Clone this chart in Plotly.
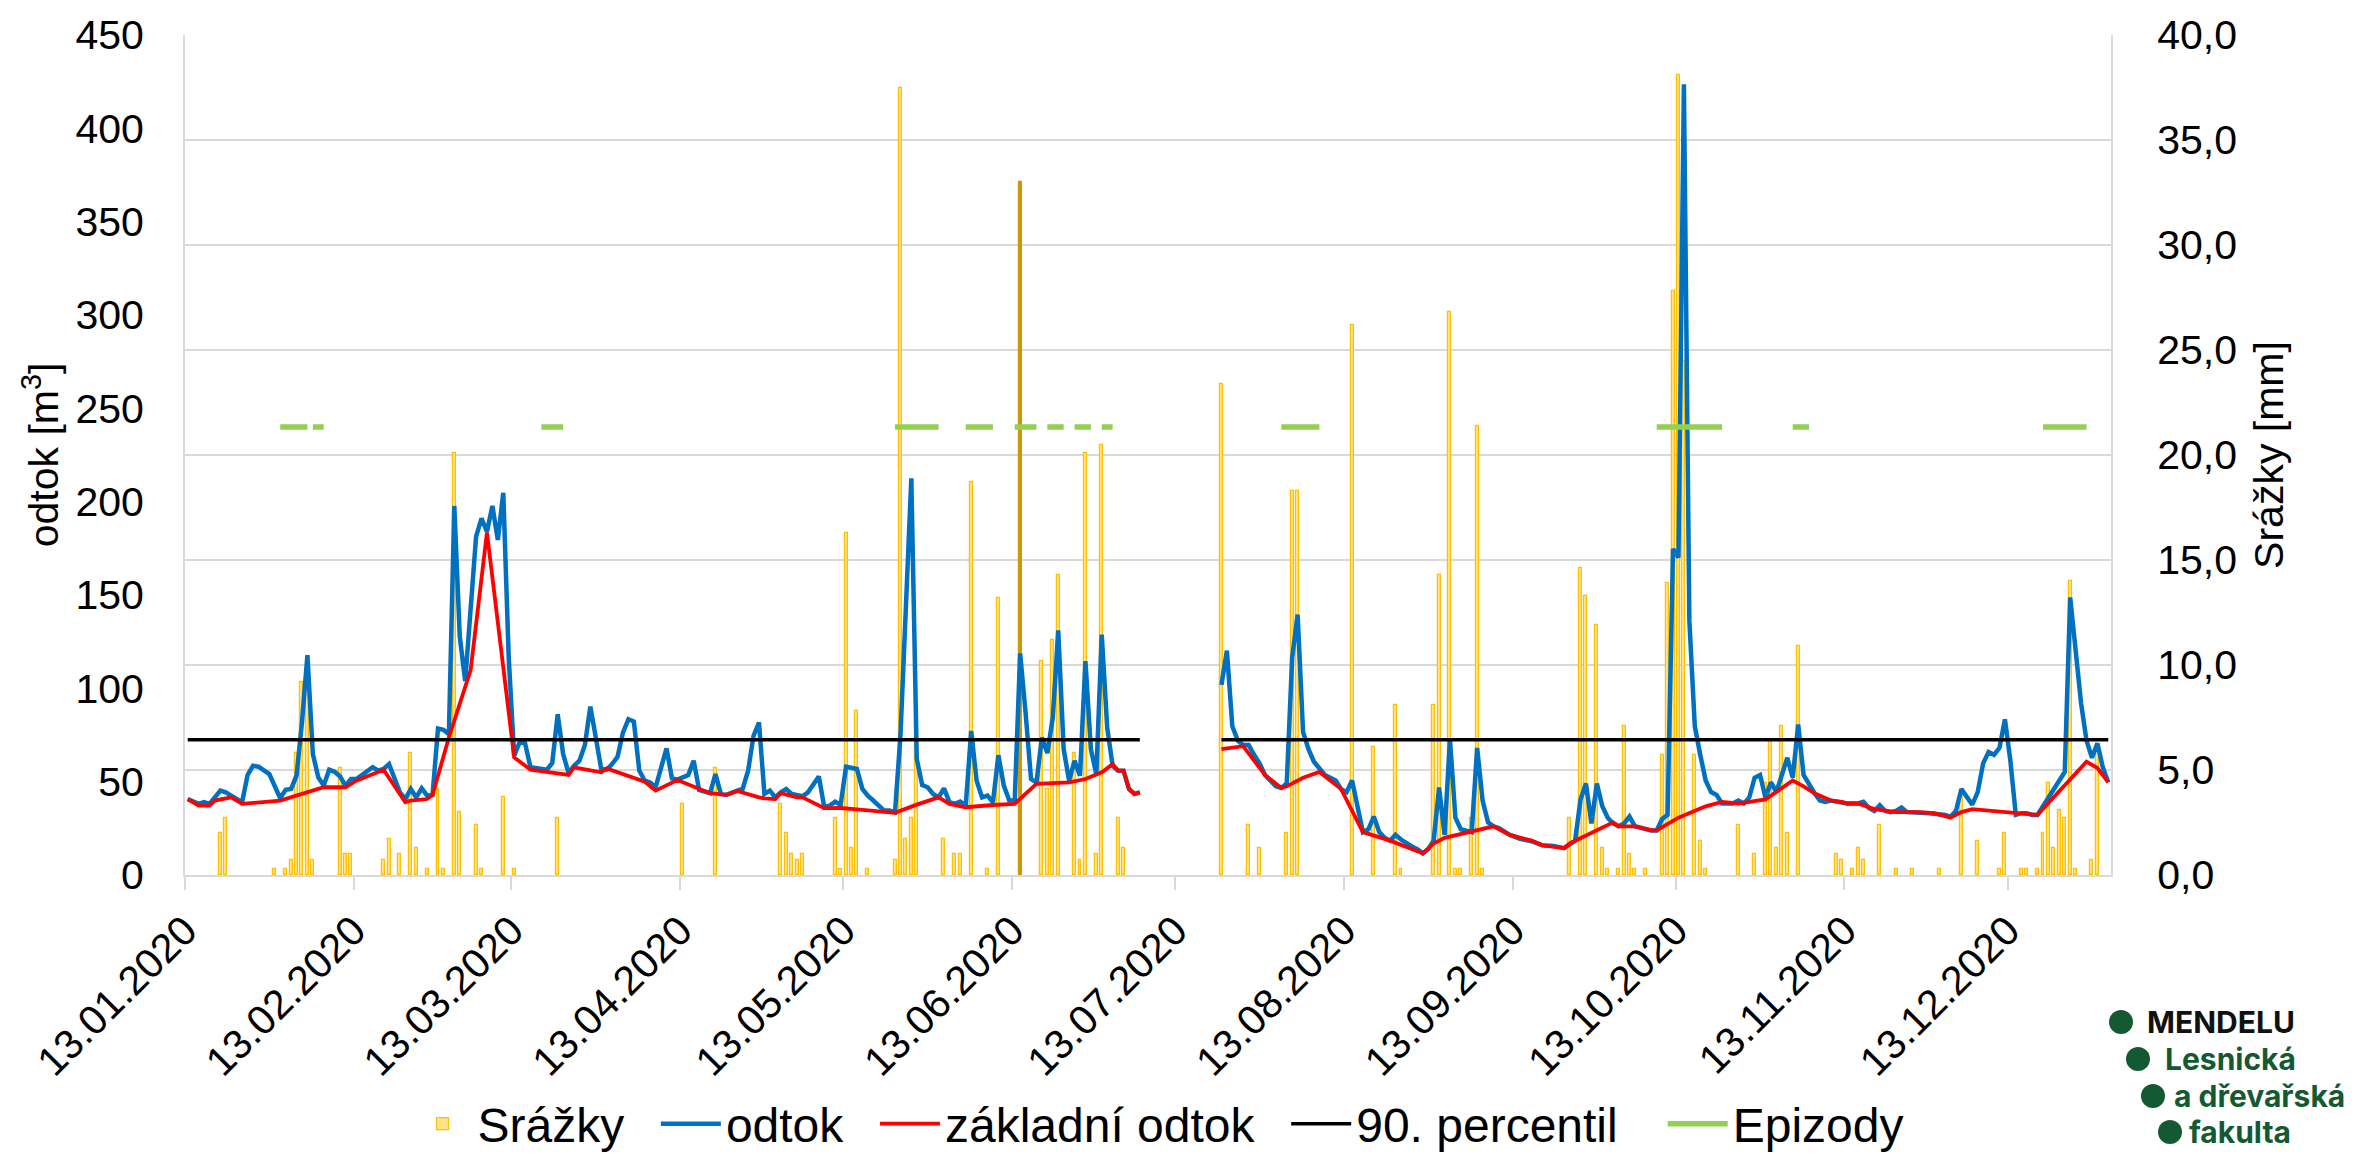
import datetime as dt
import plotly.graph_objects as go

# ---------------- data (days counted from 13.01.2020) ----------------
START = dt.datetime(2020, 1, 13)

tick_labels = ["13.01.2020", "13.02.2020", "13.03.2020", "13.04.2020", "13.05.2020", "13.06.2020",
               "13.07.2020", "13.08.2020", "13.09.2020", "13.10.2020", "13.11.2020", "13.12.2020"]

odtok_day = [0, 2, 3, 4, 6, 7, 8, 10, 11, 12, 13, 15, 17, 18, 19, 20, 21, 22, 23, 24, 25, 26, 27, 28, 29, 30,
             31, 33, 34, 35, 36, 37, 39, 40, 41, 42, 43, 44, 45, 46, 47, 48, 49, 50, 51, 53, 54, 55, 56, 57, 58,
             59, 60, 61, 62, 63, 65, 66, 67, 68, 69, 70, 71, 72, 73, 74, 75, 76, 77, 78, 79, 80, 81, 82, 83, 84,
             85, 86, 88, 89, 90, 92, 93, 94, 96, 97, 98, 99, 101, 102, 103, 104, 105, 106, 107, 108, 109, 110,
             111, 112, 113, 114, 115, 116, 117, 118, 119, 120, 121, 122, 123, 124, 125, 126, 127, 128, 129, 130,
             131, 132, 133, 134, 135, 136, 137, 138, 139, 140, 141, 142, 143, 144, 145, 146, 147, 148, 149, 150,
             151, 152, 153, 154, 155, 156, 157, 158, 159, 160, 161, 162, 163, 164, 165, 166, 167, 168, 169, 170,
             171, 172, 173, 174, 175,
             190, 191, 192, 193, 194, 195, 196, 197, 198, 200, 201, 202, 203, 204, 205, 206, 207, 208, 209, 210,
             211, 212, 213, 214, 215, 216, 217, 218, 219, 220, 221, 222, 223, 224, 225, 226, 227, 228, 229, 230,
             231, 232, 233, 234, 235, 236, 237, 238, 239, 240, 241, 243, 245, 247, 249, 251, 253, 255, 256, 257,
             258, 259, 260, 261, 262, 263, 264, 265, 266, 268, 269, 270, 271, 272, 273, 274, 275, 276, 277, 278,
             279, 280, 281, 282, 283, 284, 285, 286, 287, 288, 289, 290, 291, 292, 293, 294, 295, 296, 297, 298,
             299, 300, 301, 302, 303, 305, 306, 307, 308, 309, 310, 311, 312, 313, 314, 315, 316, 317, 318, 320,
             321, 322, 323, 324, 325, 326, 327, 328, 329, 330, 331, 332, 333, 334, 335, 336, 337, 338, 339, 340,
             341, 342, 343, 344, 345, 346, 347, 348, 349, 350, 351, 352, 353]
odtok_val = [40.7, 38.1, 39.0, 38.1, 45.2, 44.3, 42.5, 39.0, 53.6, 58.5, 58.0, 54.1, 41.1, 45.6, 46.1, 53.2, 81.7,
             117.8, 64.8, 52.3, 47.9, 56.4, 55.3, 52.8, 47.9, 51.4, 51.4, 55.9, 57.7, 55.9, 56.8, 59.4, 44.3, 40.7,
             46.1, 41.6, 46.4, 42.5, 42.9, 78.5, 77.8, 75.4, 197.7, 127.9, 103.9, 181.3, 191.1, 184.0, 197.7,
             179.5, 204.8, 116.4, 63.9, 71.0, 70.6, 57.7, 57.1, 56.4, 60.0, 86.1, 64.8, 54.6, 58.5, 61.2, 69.6,
             90.2, 73.7, 56.8, 56.4, 59.4, 63.3, 76.3, 83.5, 82.2, 55.9, 50.5, 49.6, 47.0, 67.8, 51.8, 51.1, 53.6,
             61.2, 45.6, 43.8, 54.1, 43.4, 42.9, 45.2, 46.1, 55.9, 74.6, 81.7, 43.4, 45.2, 41.6, 44.3, 46.1, 43.4,
             42.5, 42.2, 44.3, 48.8, 52.8, 36.3, 37.2, 39.3, 37.5, 58.0, 57.1, 56.8, 46.1, 42.5, 39.9, 37.2, 34.5,
             34.5, 33.6, 74.6, 147.5, 212.5, 62.1, 48.2, 47.0, 43.4, 41.6, 46.4, 39.0, 38.1, 39.3, 37.2, 77.2,
             50.5, 41.6, 42.5, 39.0, 64.2, 47.9, 39.9, 39.9, 118.7, 87.0, 51.4, 49.6, 73.7, 65.3, 84.3, 131.1,
             67.4, 50.5, 61.2, 53.2, 114.6, 67.4, 54.1, 128.8, 79.0, 58.5, 55.9, 55.9, 46.1, 43.4, 44.3,
             101.8, 120.2, 79.7, 72.0, 69.6, 69.6, 64.4, 59.8, 53.6, 47.5, 46.6, 49.0, 116.5, 139.5, 76.6, 67.4,
             60.7, 56.7, 53.6, 52.1, 50.6, 46.0, 44.4, 50.6, 36.8, 23.0, 24.5, 31.3, 23.0, 19.9, 18.4, 21.5, 19.0,
             16.9, 15.3, 13.8, 11.6, 13.8, 18.4, 46.9, 21.5, 72.7, 30.7, 24.5, 23.6, 23.0, 68.1, 39.9, 28.2, 26.1,
             25.1, 21.5, 19.3, 18.1, 15.9, 15.6, 14.4, 18.4, 40.5, 49.0, 27.6, 49.0, 36.8, 30.7, 27.6, 26.1, 27.6,
             31.3, 26.1, 24.5, 23.9, 23.9, 30.0, 32.2, 174.7, 170.1, 423.6, 136.4, 79.7, 64.4, 50.6, 44.4, 42.9,
             38.3, 38.3, 38.3, 39.9, 38.3, 41.4, 52.1, 53.6, 41.4, 49.7, 44.4, 53.6, 62.8, 52.1, 80.6, 53.6, 48.4,
             43.8, 39.9, 39.2, 39.9, 39.2, 38.3, 38.3, 38.3, 39.2, 35.9, 34.3, 37.4, 34.3, 33.7, 34.3, 36.2, 33.7,
             33.7, 33.7, 33.1, 32.8, 32.8, 32.2, 31.3, 34.3, 46.0, 42.0, 37.7, 44.4, 59.8, 65.9, 64.4, 68.1, 83.4,
             61.3, 32.2, 33.1, 33.1, 32.2, 32.2, 36.8, 41.4, 46.0, 50.6, 55.2, 148.7, 121.1, 92.0, 72.0, 62.8,
             70.5, 57.6, 49.7]

zaklad_day = [0, 2, 4, 5, 8, 10, 17, 25, 29, 31, 36, 40, 41, 44, 45, 48, 52, 55, 60, 63, 70, 71, 76, 77, 84, 86,
              90, 96, 99, 101, 105, 106, 108, 109, 112, 113, 117, 120, 123, 128, 130, 134, 138, 140, 143, 148,
              152, 156, 162, 165, 168, 170, 171, 172, 173, 174, 175,
              190, 194, 198, 201, 202, 205, 208, 210, 212, 216, 221, 227, 229, 231, 240, 243, 247, 249, 253, 254,
              262, 263, 266, 269, 270, 274, 279, 282, 285, 290, 292, 295, 297, 299, 302, 304, 305, 307, 310, 314,
              318, 321, 324, 326, 328, 334, 338, 340, 349, 351, 353]
zaklad_val = [40.7, 37.2, 37.2, 39.9, 41.6, 38.1, 39.9, 47.0, 47.0, 50.5, 56.4, 39.0, 39.9, 40.7, 42.9, 73.7, 109.8,
              183.5, 63.0, 56.4, 53.6, 57.7, 55.0, 57.1, 50.0, 45.2, 50.9, 43.8, 42.9, 45.0, 41.6, 41.1, 40.7, 43.8,
              41.6, 41.6, 35.8, 35.9, 35.1, 34.0, 33.3, 37.7, 41.6, 38.1, 36.3, 37.5, 38.1, 48.8, 49.6, 51.4, 55.0,
              59.4, 55.9, 55.9, 46.1, 43.4, 44.3,
              67.4, 69.0, 53.6, 46.6, 47.5, 52.1, 55.2, 50.6, 46.0, 23.0, 18.4, 11.6, 16.9, 19.9, 26.1, 21.5, 18.4,
              15.9, 14.4, 16.9, 28.2, 26.1, 26.1, 23.9, 23.9, 30.7, 36.8, 39.2, 38.3, 40.5, 44.4, 50.6, 47.5, 43.8,
              39.9, 39.2, 38.3, 38.3, 35.3, 33.7, 33.7, 33.1, 30.7, 33.7, 35.3, 33.7, 33.1, 32.2, 60.7, 57.3, 49.7]

srazky_day = [6, 7, 16, 18, 19, 20, 21, 22, 23, 28, 29, 30, 36, 37, 39, 41, 42, 44, 46, 47, 49, 50, 53, 54, 58, 60,
              68, 91, 97, 109, 110, 111, 112, 113, 119, 120, 121, 122, 123, 125, 130, 131, 132, 133, 134, 139, 141,
              142, 144, 147, 149, 153, 157, 158, 159, 160, 163, 164, 165, 167, 168, 171, 172,
              190, 195, 197, 202, 203, 204, 214, 218, 222, 223, 229, 230, 232, 233, 234, 236, 237, 238, 254, 256,
              257, 259, 260, 261, 263, 264, 265, 266, 268, 271, 272, 273, 274, 275, 277, 278, 279, 285, 288, 290,
              291, 292, 293, 294, 296, 303, 304, 306, 307, 308, 311, 314, 317, 322, 326, 329, 333, 334, 337, 338,
              340, 341, 342, 343, 344, 345, 346, 347, 350, 351]
srazky_val = [2.0, 2.7, 0.3, 0.3, 0.7, 5.8, 9.2, 8.9, 0.7, 5.1, 1.0, 1.0, 0.7, 1.7, 1.0, 5.8, 1.3, 0.3, 4.1, 0.3,
              20.1, 3.0, 2.4, 0.3, 3.7, 0.3, 2.7, 3.4, 5.1, 3.4, 2.0, 1.0, 0.7, 1.0, 2.7, 0.3, 16.3, 1.3, 7.8, 0.3,
              0.7, 37.5, 1.7, 2.7, 7.4, 1.7, 1.0, 1.0, 18.7, 0.3, 13.2, 33.0, 10.2, 4.1, 11.2, 14.3, 5.8, 0.7,
              20.1, 1.0, 20.5, 2.7, 1.3,
              23.4, 2.4, 1.3, 2.0, 18.3, 18.3, 26.2, 6.1, 8.1, 0.3, 8.1, 14.3, 26.8, 0.3, 0.3, 2.7, 21.4, 0.3, 2.7,
              14.6, 13.3, 11.9, 1.3, 0.3, 0.3, 7.1, 1.0, 0.3, 0.3, 5.7, 13.9, 27.8, 38.1, 24.5, 5.7, 1.6, 0.3, 2.4,
              1.0, 4.4, 6.4, 1.3, 7.1, 2.0, 10.9, 1.0, 0.7, 0.3, 1.3, 0.7, 2.4, 0.3, 0.3, 0.3, 3.7, 1.6, 0.3, 2.0,
              0.3, 0.3, 0.3, 2.0, 4.4, 1.3, 3.1, 2.7, 14.0, 0.3, 0.7, 6.0]
srazky_highlight_day = 153          # bar drawn in the darker colour

percentil_90 = 72.5
percentil_start = [0, 190]
percentil_end = [175, 353]

epizody_level = 240
epizody_start = [17, 23, 65, 130, 143, 152, 158, 163, 168, 201, 270, 295, 341]
epizody_end = [22, 25, 69, 138, 148, 156, 161, 166, 170, 208, 282, 298, 349]

legend_names = ["Srážky", "odtok", "základní odtok", "90. percentil", "Epizody"]
legend_trailing_gap = [2, 2, 2, 3, 0]   # no-break spaces after each legend name
logo_lines = ["MENDELU", "Lesnická", "a dřevařská", "fakulta"]

# ---------------- helpers ----------------
assert len(odtok_day) == len(odtok_val)
assert len(zaklad_day) == len(zaklad_val)
assert len(srazky_day) == len(srazky_val)


def d(n):
    return (START + dt.timedelta(days=n)).strftime("%Y-%m-%d")


def with_gaps(days, vals, max_step=10):
    xs, ys = [], []
    for i, (n, v) in enumerate(zip(days, vals)):
        if i and n - days[i - 1] > max_step:
            xs.append(None)
            ys.append(None)
        xs.append(d(n))
        ys.append(v)
    return xs, ys


def segs(starts, ends, level):
    xs, ys = [], []
    for s, e in zip(starts, ends):
        xs += [d(s), d(e), None]
        ys += [level, level, None]
    return xs, ys


def lname(i):
    return legend_names[i] + "\u00a0" * legend_trailing_gap[i]


FONT = "Arial, Liberation Sans, sans-serif"
GRID = "#D9D9D9"
L, R, T, B = 177, 269, 27, 287
W, H = 2372, 1154
PW, PH = W - L - R, H - T - B


def px(xp):
    return (xp - L) / PW


def py(yp):
    return (H - B - yp) / PH


fig = go.Figure()

bar_fill = ["#C99A06" if n == srazky_highlight_day else "#FFE28A" for n in srazky_day]
bar_line = ["#C99A06" if n == srazky_highlight_day else "#FFC000" for n in srazky_day]
fig.add_trace(go.Bar(
    x=[d(n) for n in srazky_day], y=srazky_val, name=lname(0), yaxis="y",
    width=0.55 * 86400000,
    marker=dict(color=bar_fill, line=dict(color=bar_line, width=1.2)),
))

ox, oy = with_gaps(odtok_day, odtok_val)
fig.add_trace(go.Scatter(x=ox, y=oy, name=lname(1), yaxis="y2", mode="lines",
                         line=dict(color="#0070C0", width=4.5), connectgaps=False))
zx, zy = with_gaps(zaklad_day, zaklad_val)
fig.add_trace(go.Scatter(x=zx, y=zy, name=lname(2), yaxis="y2", mode="lines",
                         line=dict(color="#FF0000", width=3.8), connectgaps=False))
px90, py90 = segs(percentil_start, percentil_end, percentil_90)
fig.add_trace(go.Scatter(x=px90, y=py90, name=lname(3), yaxis="y2", mode="lines",
                         line=dict(color="#000000", width=3.5), connectgaps=False))
ex, ey = segs(epizody_start, epizody_end, epizody_level)
fig.add_trace(go.Scatter(x=ex, y=ey, name=lname(4), yaxis="y2", mode="lines",
                         line=dict(color="#92D050", width=5.5), connectgaps=False))

tickvals = [(dt.datetime.strptime(t, "%d.%m.%Y") - dt.timedelta(hours=12)).strftime("%Y-%m-%d %H:%M")
            for t in tick_labels]

fig.update_layout(
    width=W, height=H,
    margin=dict(l=L, r=R, t=T, b=B, autoexpand=False),
    paper_bgcolor="white", plot_bgcolor="white",
    separators=", ",
    font=dict(family=FONT, size=41, color="#000000"),
    bargap=0,
    xaxis=dict(
        type="date", range=["2020-01-12 12:00", "2020-12-31 12:00"], automargin=False,
        tickmode="array", tickvals=tickvals, ticktext=tick_labels, tickangle=-45,
        ticks="outside", ticklen=13, tickwidth=2, tickcolor=GRID,
        showline=True, linecolor=GRID, linewidth=2, showgrid=False, zeroline=False,
        tickfont=dict(family=FONT, size=41, color="#000000"),
    ),
    yaxis=dict(
        side="right", range=[0, 40], dtick=5, tickformat=".1f", automargin=False,
        showgrid=True, gridcolor=GRID, gridwidth=2, zeroline=False,
        showline=True, linecolor=GRID, linewidth=2, ticks="",
        ticklabelstandoff=36,
        tickfont=dict(family=FONT, size=41, color="#000000"),
        title=dict(text="Srážky [mm]", font=dict(family=FONT, size=41, color="#000000"), standoff=18),
    ),
    yaxis2=dict(
        side="left", overlaying="y", range=[0, 450], dtick=50, automargin=False,
        showgrid=False, zeroline=False,
        showline=True, linecolor=GRID, linewidth=2, ticks="",
        ticklabelstandoff=31,
        tickfont=dict(family=FONT, size=41, color="#000000"),
        title=dict(text="odtok [m<sup>3</sup>]", font=dict(family=FONT, size=41, color="#000000"), standoff=4),
    ),
    legend=dict(
        orientation="h", xref="container", yref="container",
        x=1150 / W, xanchor="center", y=(H - 1116) / H, yanchor="middle",
        font=dict(family=FONT, size=48, color="#000000"), bgcolor="rgba(0,0,0,0)",
        traceorder="normal", itemwidth=60,
    ),
    showlegend=True,
)

# ---------------- logo ----------------
LOGO_GREEN = "#135A33"
logo_dot_x = [2113, 2130, 2145, 2162]
logo_text_x = [2137, 2155, 2164, 2179]
logo_y = [1014, 1051, 1088, 1124]
for i, txt in enumerate(logo_lines):
    fig.add_shape(type="circle", xref="paper", yref="paper",
                  xsizemode="pixel", ysizemode="pixel",
                  xanchor=px(logo_dot_x[i]), yanchor=py(logo_y[i]),
                  x0=-12, x1=12, y0=-12, y1=12,
                  fillcolor=LOGO_GREEN, line=dict(width=0))
    fig.add_annotation(xref="paper", yref="paper", x=px(logo_text_x[i]), y=py(logo_y[i]),
                       xanchor="left", yanchor="middle", showarrow=False,
                       text=f"<b>{txt}</b>",
                       font=dict(family="Inter, Noto Sans, sans-serif", size=30,
                                 color="#111111" if i == 0 else LOGO_GREEN))

fig.write_html("out.html")
